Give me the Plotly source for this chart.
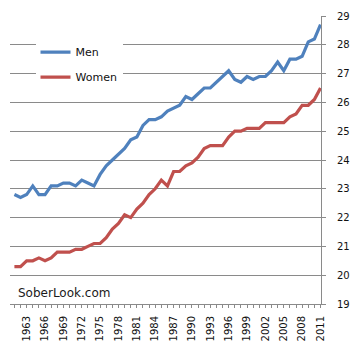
import plotly.graph_objects as go

years = list(range(1961, 2012))
men = [22.8, 22.7, 22.8, 23.1, 22.8, 22.8, 23.1, 23.1, 23.2, 23.2,
       23.1, 23.3, 23.2, 23.1, 23.5, 23.8, 24.0, 24.2, 24.4, 24.7,
       24.8, 25.2, 25.4, 25.4, 25.5, 25.7, 25.8, 25.9, 26.2, 26.1,
       26.3, 26.5, 26.5, 26.7, 26.9, 27.1, 26.8, 26.7, 26.9, 26.8,
       26.9, 26.9, 27.1, 27.4, 27.1, 27.5, 27.5, 27.6, 28.1, 28.2,
       28.7]
women = [20.3, 20.3, 20.5, 20.5, 20.6, 20.5, 20.6, 20.8, 20.8, 20.8,
         20.9, 20.9, 21.0, 21.1, 21.1, 21.3, 21.6, 21.8, 22.1, 22.0,
         22.3, 22.5, 22.8, 23.0, 23.3, 23.1, 23.6, 23.6, 23.8, 23.9,
         24.1, 24.4, 24.5, 24.5, 24.5, 24.8, 25.0, 25.0, 25.1, 25.1,
         25.1, 25.3, 25.3, 25.3, 25.3, 25.5, 25.6, 25.9, 25.9, 26.1,
         26.5]
tick_years = list(range(1963, 2012, 3))
tick_labels = [str(y) for y in tick_years]
y_ticks = list(range(19, 30))

FONT = "DejaVu Sans"
GRID = "#8a8a8a"

fig = go.Figure()
fig.add_trace(go.Scatter(x=years, y=men, mode="lines", name="Men",
                         legendgroup="m",
                         line=dict(color="#4F81BD", width=3.2)))
fig.add_trace(go.Scatter(x=years, y=women, mode="lines", name="Women",
                         legendgroup="w",
                         line=dict(color="#C0504D", width=3.2)))

fig.update_layout(
    width=360, height=351,
    margin=dict(l=10, r=33, t=11, b=46),
    paper_bgcolor="white", plot_bgcolor="white",
    font=dict(family=FONT, size=10, color="#111111"),
    showlegend=True,
    legend=dict(x=0.082, y=0.925, xanchor="left", yanchor="top",
                bgcolor="white", borderwidth=0, tracegroupgap=6,
                font=dict(family=FONT, size=11, color="#111111")),
    annotations=[dict(text="SoberLook.com", xref="paper", yref="paper",
                      x=0.019, y=0.039, xanchor="left", yanchor="middle",
                      showarrow=False,
                      font=dict(family=FONT, size=12, color="#1a1a1a"))],
)
fig.update_xaxes(range=[1960.28, 2011.08], tickmode="array",
                 tickvals=tick_years, ticktext=tick_labels,
                 tickangle=-90, ticks="outside", ticklen=3, tickcolor=GRID,
                 showline=True, linecolor=GRID, linewidth=1,
                 showgrid=False, zeroline=False,
                 minor=dict(ticks="outside", ticklen=3, tickcolor=GRID,
                            dtick=1, tick0=1961, showgrid=False),
                 tickfont=dict(family=FONT, size=10, color="#111111"),
                 ticklabelstandoff=4)
fig.update_yaxes(range=[19, 29], side="right", tickmode="array",
                 tickvals=y_ticks, ticktext=[str(v) for v in y_ticks],
                 ticks="outside", ticklen=4, tickcolor=GRID,
                 showline=True, linecolor=GRID, linewidth=1,
                 showgrid=True, gridcolor=GRID, gridwidth=1, zeroline=False,
                 tickfont=dict(family=FONT, size=10, color="#111111"),
                 ticklabelstandoff=9)

fig.write_html("out.html")
